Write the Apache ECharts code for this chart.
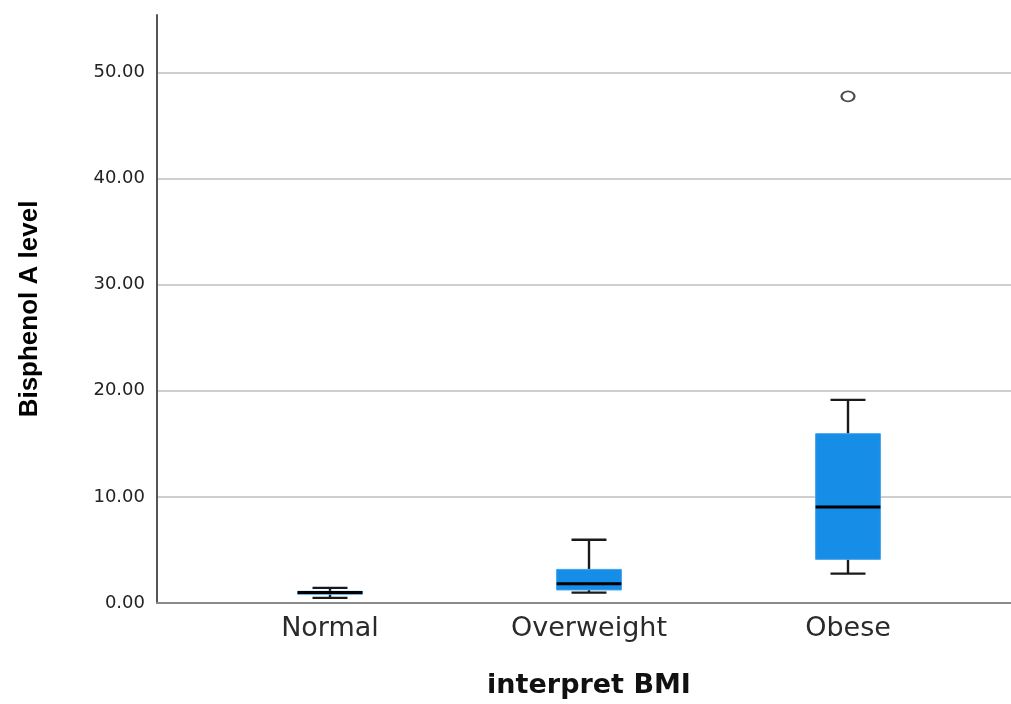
<!DOCTYPE html>
<html><head><meta charset="utf-8">
<script src="https://cdn.jsdelivr.net/npm/echarts@6/dist/echarts.min.js"></script>
<style>html,body{margin:0;padding:0;background:#fff}#c{width:1011px;height:704px}</style>
</head><body><div id="c"></div>
<script>
const categories = ['Normal', 'Overweight', 'Obese'];
const whiskerMin = [0.2, 0.7, 2.5];
const q1 = [0.55, 0.95, 3.85];
const median = [0.7, 1.55, 8.8];
const q3 = [0.82, 2.9, 15.75];
const whiskerMax = [1.15, 5.7, 18.95];
const outliers = [[2, 47.7]];
const yTicks = [0, 10, 20, 30, 40, 50];

const boxData = categories.map((c, i) => [i, whiskerMin[i], q1[i], median[i], q3[i], whiskerMax[i]]);

const chart = echarts.init(document.getElementById('c'));
const yMax = 55.4;
const gridColor = '#cfcfcf';
chart.setOption({
  animation: false,
  grid: [
    {left: 157, right: 0, top: 15, bottom: 101},
    {left: 200.5, right: 33.5, top: 15, bottom: 101}
  ],
  xAxis: [
    {gridIndex: 0, type: 'value', min: 0, max: 1, axisLabel: {show: false}, axisTick: {show: false},
     splitLine: {show: false}, axisLine: {show: true, lineStyle: {color: '#8a8a8a', width: 2}}},
    {gridIndex: 1, type: 'category', data: categories, axisLine: {show: false}, axisTick: {show: false},
     axisLabel: {fontFamily: 'DejaVu Sans', fontSize: 27, color: '#2a2a2a', margin: 15},
     name: 'interpret BMI', nameLocation: 'middle', nameGap: 72,
     nameTextStyle: {fontFamily: 'DejaVu Sans', fontWeight: 'bold', fontSize: 27, color: '#111'}}
  ],
  yAxis: [
    {gridIndex: 0, type: 'value', min: 0, max: yMax, interval: 10,
     axisLine: {show: true, lineStyle: {color: '#555', width: 2}}, axisTick: {show: false},
     axisLabel: {fontFamily: 'DejaVu Sans', fontSize: 18, color: '#222', margin: 12,
       formatter: v => yTicks.includes(v) ? v.toFixed(2) : ''},
     splitLine: {show: true, lineStyle: {color: [gridColor, gridColor, gridColor, gridColor, gridColor, gridColor, 'rgba(0,0,0,0)'], width: 2}},
     name: 'Bisphenol A level', nameLocation: 'middle', nameGap: 114, nameRotate: 90,
     nameTextStyle: {fontFamily: 'Liberation Sans', fontWeight: 'bold', fontSize: 26, color: '#000'}},
    {gridIndex: 1, type: 'value', min: 0, max: yMax, interval: 10, show: false, splitLine: {show: false}}
  ],
  series: [
    {
      type: 'custom', xAxisIndex: 1, yAxisIndex: 1, data: boxData,
      encode: {x: 0, y: [1, 2, 3, 4, 5]},
      renderItem: function (params, api) {
        const x = api.value(0);
        const band = api.size([1, 0])[0];
        const bw = band * 0.25, cw = band * 0.135;
        const pMin = api.coord([x, api.value(1)]);
        const pQ1 = api.coord([x, api.value(2)]);
        const pMed = api.coord([x, api.value(3)]);
        const pQ3 = api.coord([x, api.value(4)]);
        const pMax = api.coord([x, api.value(5)]);
        const cx = pMed[0];
        const ws = {stroke: '#1a1a1a', lineWidth: 2.4};
        return {type: 'group', children: [
          {type: 'line', shape: {x1: cx, y1: pMax[1], x2: cx, y2: pQ3[1]}, style: ws},
          {type: 'line', shape: {x1: cx, y1: pMin[1], x2: cx, y2: pQ1[1]}, style: ws},
          {type: 'line', shape: {x1: cx - cw / 2, y1: pMax[1], x2: cx + cw / 2, y2: pMax[1]}, style: ws},
          {type: 'line', shape: {x1: cx - cw / 2, y1: pMin[1], x2: cx + cw / 2, y2: pMin[1]}, style: ws},
          {type: 'rect', shape: {x: cx - bw / 2, y: pQ3[1], width: bw, height: Math.max(pQ1[1] - pQ3[1], 1)},
           style: {fill: '#168de6', stroke: '#3fa3ee', lineWidth: 1}},
          {type: 'line', shape: {x1: cx - bw / 2, y1: pMed[1], x2: cx + bw / 2, y2: pMed[1]},
           style: {stroke: '#000', lineWidth: 3}}
        ]};
      }
    },
    {
      type: 'scatter', xAxisIndex: 1, yAxisIndex: 1, data: outliers,
      symbol: 'circle', symbolSize: [13, 10],
      itemStyle: {color: '#fff', borderColor: '#222', borderWidth: 2}
    }
  ]
});
</script></body></html>
